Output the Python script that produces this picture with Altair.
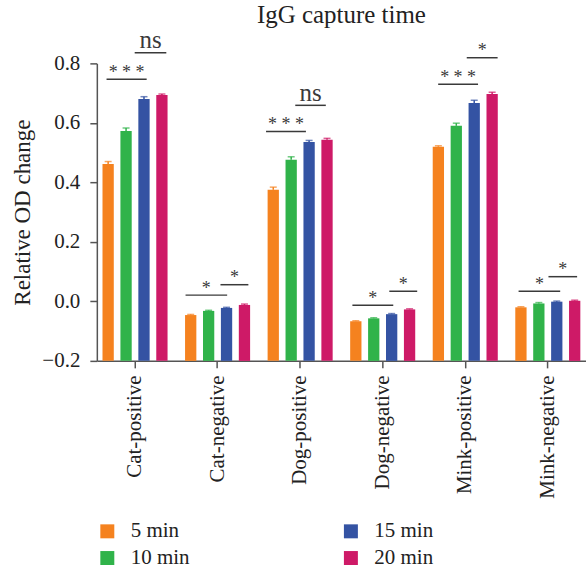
import altair as alt
import pandas as pd

groups = ["Cat-positive", "Cat-negative", "Dog-positive", "Dog-negative", "Mink-positive", "Mink-negative"]
times = ["5 min", "10 min", "15 min", "20 min"]
colors = ["#F5821F", "#30B34A", "#3453A3", "#CE1A67"]

# bar heights per time (one value per group)
v5 = [0.462, -0.046, 0.375, -0.067, 0.520, -0.020]
v10 = [0.573, -0.032, 0.476, -0.057, 0.590, -0.007]
v15 = [0.680, -0.022, 0.536, -0.043, 0.667, -0.001]
v20 = [0.694, -0.012, 0.543, -0.027, 0.697, 0.002]
# error (upper only)
e5 = [0.008, 0.002, 0.009, 0.002, 0.003, 0.002]
e10 = [0.010, 0.002, 0.010, 0.002, 0.009, 0.003]
e15 = [0.008, 0.002, 0.005, 0.002, 0.009, 0.002]
e20 = [0.003, 0.003, 0.005, 0.002, 0.006, 0.002]

# significance brackets (x in group units, group centers at 0..5)
sig_x1 = [-0.345, -0.004, 0.612, 1.035, 1.587, 1.941, 2.633, 3.080, 3.672, 4.018, 4.646, 5.008]
sig_x2 = [0.141, 0.379, 1.116, 1.373, 2.070, 2.311, 3.128, 3.418, 4.155, 4.392, 5.150, 5.355]
sig_y = [0.747, 0.836, 0.021, 0.056, 0.571, 0.659, -0.013, 0.034, 0.730, 0.819, 0.034, 0.083]
sig_label = ["* * *", "ns", "*", "*", "* * *", "ns", "*", "*", "* * *", "*", "*", "*"]

y_ticks = [-0.2, 0.0, 0.2, 0.4, 0.6, 0.8]

rows = []
for vals, errs, t in zip([v5, v10, v15, v20], [e5, e10, e15, e20], times):
    for g, v, e in zip(groups, vals, errs):
        rows.append({"group": g, "time": t, "value": v, "upper": v + e})
df = pd.DataFrame(rows)

sig = pd.DataFrame({"x1": sig_x1, "x2": sig_x2, "y": sig_y, "label": sig_label})

FONT = "Liberation Serif"
W, H = 490, 298
PI, PO = 0.212, 0.0686
PI2 = 0.37
n = len(groups)
qmin = -(PO + (1 - PI) / 2)
qmax = n - PI + 2 * PO - PO - (1 - PI) / 2

ydom = [-0.2, 0.8]

xband = alt.X("group:N", sort=groups, title=None,
              scale=alt.Scale(paddingInner=PI, paddingOuter=PO),
              axis=alt.Axis(labelAngle=-90, labelFont=FONT, labelFontSize=21,
                            labelColor="#222", labelPadding=7, tickSize=7,
                            tickColor="#555", domainColor="#555", tickWidth=1.5,
                            domainWidth=1.5, labelBaseline="middle", labelAlign="right"))
xoff = alt.XOffset("time:N", sort=times, scale=alt.Scale(paddingInner=PI2, paddingOuter=0))
yenc = alt.Y("value:Q", scale=alt.Scale(domain=ydom, nice=False, zero=False),
             title="Relative OD change",
             axis=alt.Axis(values=y_ticks, format=".1f", grid=False, labelFont=FONT,
                           labelFontSize=21, labelColor="#222", titleFont=FONT,
                           titleFontSize=23, titleFontWeight="normal", titleColor="#222",
                           titlePadding=7, tickSize=7, tickColor="#555", tickWidth=1.5,
                           domainColor="#555", domainWidth=1.5, labelPadding=10))

cscale = alt.Scale(domain=times, range=colors)
color = alt.Color("time:N", sort=times, scale=cscale,
                  legend=alt.Legend(title=None, orient="none", legendX=0, legendY=458,
                                    columns=2, columnPadding=151, rowPadding=5,
                                    symbolType="square", symbolSize=196,
                                    symbolStrokeWidth=0, labelFont=FONT,
                                    labelFontSize=21, labelColor="#222", labelOffset=13))
color_nl = alt.Color("time:N", sort=times, scale=cscale, legend=None)

base = alt.Chart(df)
bars = base.mark_bar(clip=False).encode(x=xband, xOffset=xoff, y=yenc,
                                        y2=alt.datum(-0.2), color=color)
err = base.mark_rule(strokeWidth=1.5).encode(
    x=alt.X("group:N", sort=groups), xOffset=xoff,
    y=alt.Y("value:Q"), y2="upper:Q", color=color_nl)
cap = base.mark_tick(thickness=1.5, size=7, orient="horizontal").encode(
    x=alt.X("group:N", sort=groups), xOffset=xoff, y=alt.Y("upper:Q"), color=color_nl)

qx = alt.Scale(domain=[qmin, qmax], nice=False, zero=False)
sbase = alt.Chart(sig)
lines = sbase.mark_rule(strokeWidth=1.5, color="#3a3a3a", clip=False).encode(
    x=alt.X("x1:Q", scale=qx, axis=None), x2="x2:Q", y=alt.Y("y:Q"))
stars = sbase.transform_filter(alt.datum.label != "ns").transform_calculate(
    xm="(datum.x1 + datum.x2) / 2").mark_text(
    font=FONT, fontSize=18, color="#3a3a3a", baseline="alphabetic", dy=-1.5).encode(
    x=alt.X("xm:Q", scale=qx, axis=None), y=alt.Y("y:Q"), text="label:N")
ns = sbase.transform_filter(alt.datum.label == "ns").transform_calculate(
    xm="(datum.x1 + datum.x2) / 2").mark_text(
    font=FONT, fontSize=25, color="#3a3a3a", baseline="alphabetic", dy=-4.5).encode(
    x=alt.X("xm:Q", scale=qx, axis=None), y=alt.Y("y:Q"), text="label:N")

chart = alt.layer(alt.layer(bars, err, cap), alt.layer(lines, stars, ns)).resolve_scale(
    x="independent").properties(
    width=W, height=H,
    autosize=alt.AutoSizeParams(type="none"),
    padding={"left": 97, "top": 63, "right": 0, "bottom": 210},
    title=alt.TitleParams("IgG capture time", font=FONT, fontSize=25, fontWeight="normal",
                          color="#222", anchor="middle", frame="group", offset=0),
).configure_view(stroke=None)

chart.save("out.html", embed_options={"renderer": "svg", "actions": False})
